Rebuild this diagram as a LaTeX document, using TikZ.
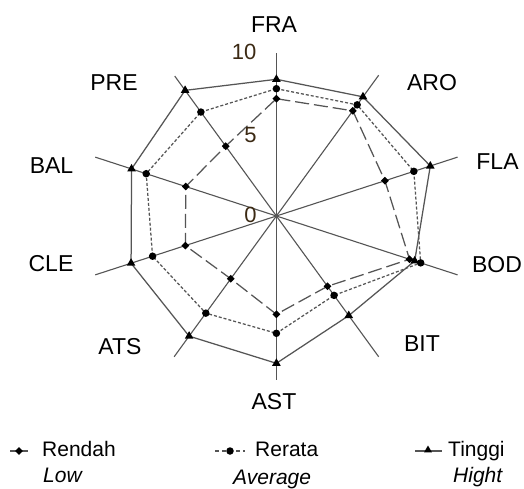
\documentclass[tikz,border=0pt]{standalone}
\usepackage{fontspec}
\setmainfont{Liberation Sans}
\usetikzlibrary{shapes.geometric}
\definecolor{linegray}{RGB}{85,85,85}
\definecolor{tickcol}{RGB}{60,42,20}
\tikzset{
  axisline/.style={draw=linegray, line width=1.1pt},
  highline/.style={draw=linegray, line width=1.25pt},
  avgline/.style={draw=linegray, line width=1.25pt, dash pattern=on 3pt off 2pt},
  lowline/.style={draw=linegray, line width=1.25pt, dash pattern=on 14pt off 5pt},
  trimark/.style={regular polygon, regular polygon sides=3, fill=black, inner sep=0pt, minimum size=10pt},
  dotmark/.style={circle, fill=black, inner sep=0pt, minimum size=7.5pt},
  diamark/.style={diamond, fill=black, inner sep=0pt, minimum size=8pt},
  axlabel/.style={inner sep=0pt, font=\fontsize{23}{27}\selectfont},
  ticklabel/.style={inner sep=0pt, text=tickcol, font=\fontsize{22}{26}\selectfont},
  legtext/.style={inner sep=0pt, anchor=base west, font=\fontsize{21}{25}\selectfont},
  legital/.style={inner sep=0pt, anchor=base west, font=\fontsize{21}{25}\selectfont\itshape},
}
\begin{document}
\begin{tikzpicture}[x=1pt,y=-1pt]
\path[use as bounding box, fill=white] (0,0) rectangle (524,489);

\begin{scope}[shift={(276.4,216)}]
  \coordinate (O) at (0,0);
  % axis ends
  \foreach \i/\a/\r in {1/90/163,2/54/174,3/18/190.5,4/-18/190.5,5/-54/174,6/-90/164,7/-126/174,8/-162/190.5,9/162/190.5,10/126/173}
    {\coordinate (E\i) at (\a:\r pt);}
  % high
  \foreach \i/\a/\r in {1/90/136.7,2/54/147.3,3/18/161.8,4/-18/145.4,5/-54/123.1,6/-90/147.3,7/-126/148.5,8/-162/152.8,9/162/152.3,10/126/155.3}
    {\coordinate (H\i) at (\a:\r pt);}
  % average
  \foreach \i/\a/\r in {1/90/127.3,2/54/137.4,3/18/144.5,4/-18/151.7,5/-54/98.1,6/-90/117.3,7/-126/120.1,8/-162/130.2,9/162/136.9,10/126/128.5}
    {\coordinate (A\i) at (\a:\r pt);}
  % low
  \foreach \i/\a/\r in {1/90/117.3,2/54/130,3/18/114.1,4/-18/140,5/-54/86.9,6/-90/98.3,7/-126/77.6,8/-162/95.7,9/162/95.3,10/126/86.3}
    {\coordinate (L\i) at (\a:\r pt);}
\end{scope}

% axes
\foreach \i in {1,...,10} {\draw[axisline] (O) -- (E\i);}

% series
\draw[lowline] (L1) -- (L2) -- (L3) -- (L4) -- (L5) -- (L6) -- (L7) -- (L8) -- (L9) -- (L10) -- cycle;
\draw[avgline] (A1) -- (A2) -- (A3) -- (A4) -- (A5) -- (A6) -- (A7) -- (A8) -- (A9) -- (A10) -- cycle;
\draw[highline] (H1) -- (H2) -- (H3) -- (H4) -- (H5) -- (H6) -- (H7) -- (H8) -- (H9) -- (H10) -- cycle;

% markers
\foreach \i in {1,...,10} {
  \node[diamark] (mL\i) at (L\i) {};
  \node[dotmark] (mA\i) at (A\i) {};
  \node[trimark] (mH\i) at (H\i) {};
}

% axis labels
\node[axlabel] (tFRA) at (274,25) {FRA};
\node[axlabel] (tARO) at (432,83) {ARO};
\node[axlabel] (tFLA) at (497.5,161.5) {FLA};
\node[axlabel] (tBOD) at (497,264.5) {BOD};
\node[axlabel] (tBIT) at (422,343.5) {BIT};
\node[axlabel] (tAST) at (274,401.5) {AST};
\node[axlabel] (tATS) at (120,347) {ATS};
\node[axlabel] (tCLE) at (51,263.5) {CLE};
\node[axlabel] (tBAL) at (51.5,165.5) {BAL};
\node[axlabel] (tPRE) at (114,83) {PRE};

% tick labels
\node[ticklabel] (k10) at (244,52) {10};
\node[ticklabel] (k5) at (250.5,135) {5};
\node[ticklabel] (k0) at (250.5,215) {0};

% legend
\coordinate (la) at (10,451); \coordinate (lb) at (28,451);
\draw[highline] (la) -- (lb);
\node[diamark] (lm1) at (19,451) {};
\node[legtext] (lg1) at (42,456) {Rendah};
\node[legital] (lg1b) at (43,482) {Low};

\coordinate (ma) at (215,451); \coordinate (mb) at (245,451);
\draw[avgline, dash pattern=on 4pt off 3pt] (ma) -- (mb);
\node[dotmark] (lm2) at (230,451) {};
\node[legtext] (lg2) at (255,456) {Rerata};
\node[legital] (lg2b) at (233,484) {Average};

\coordinate (na) at (415,451); \coordinate (nb) at (442,451);
\draw[highline] (na) -- (nb);
\node[trimark, minimum size=9pt] (lm3) at (428,450) {};
\node[legtext] (lg3) at (448,456) {Tinggi};
\node[legital] (lg3b) at (453,482) {Hight};
\end{tikzpicture}
\end{document}
